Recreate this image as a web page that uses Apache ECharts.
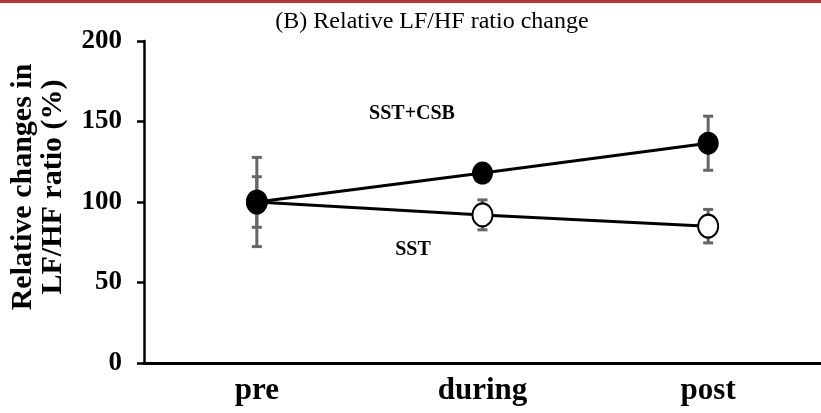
<!DOCTYPE html>
<html>
<head>
<meta charset="utf-8">
<script src="https://cdn.jsdelivr.net/npm/echarts@6/dist/echarts.min.js"></script>
<style>html,body{margin:0;padding:0;background:#fff}#c{width:821px;height:413px}</style>
</head>
<body>
<div id="c"></div>
<script>
const categories = ['pre', 'during', 'post'];
const yTicks = [0, 50, 100, 150, 200];
const sstCsbMean = [100, 118, 136.5];
const sstCsbErr = [27.7, 5, 16.8];
const sstMean = [100, 92, 85];
const sstErr = [15.7, 9.3, 10.4];

const FONT = '"Liberation Serif", "DejaVu Serif", serif';

function errData(mean, err) {
  return mean.map((m, i) => [i, m - err[i], m + err[i]]);
}

function errRender(params, api) {
  const x = api.value(0);
  const lo = api.coord([x, api.value(1)]);
  const hi = api.coord([x, api.value(2)]);
  const cap = 5;
  const style = { stroke: '#666', lineWidth: 3 };
  return {
    type: 'group',
    children: [
      { type: 'line', shape: { x1: lo[0], y1: lo[1], x2: hi[0], y2: hi[1] }, style },
      { type: 'line', shape: { x1: lo[0] - cap, y1: lo[1], x2: lo[0] + cap, y2: lo[1] }, style },
      { type: 'line', shape: { x1: hi[0] - cap, y1: hi[1], x2: hi[0] + cap, y2: hi[1] }, style }
    ]
  };
}

const chart = echarts.init(document.getElementById('c'));
chart.setOption({
  animation: false,
  backgroundColor: '#fff',
  title: {
    text: '(B) Relative LF/HF ratio change',
    left: 427, top: 5, textAlign: 'center',
    textStyle: { fontFamily: FONT, fontWeight: 'normal', fontSize: 24, color: '#000' }
  },
  grid: { left: 144, right: 0, top: 41, bottom: 50, containLabel: false },
  xAxis: {
    type: 'category',
    data: categories,
    boundaryGap: true,
    axisLine: { lineStyle: { color: '#000', width: 3 } },
    axisTick: { show: false },
    axisLabel: { fontFamily: FONT, fontWeight: 'bold', fontSize: 31, color: '#000', margin: 12 }
  },
  yAxis: {
    type: 'value',
    min: yTicks[0], max: yTicks[yTicks.length - 1], interval: 50,
    splitLine: { show: false },
    axisLine: { show: true, lineStyle: { color: '#000', width: 2.5 } },
    axisTick: { show: true, inside: false, length: 7, lineStyle: { color: '#000', width: 2.5 } },
    axisLabel: { fontFamily: FONT, fontWeight: 'bold', fontSize: 27, color: '#000', margin: 22 }
  },
  graphic: [
    { type: 'rect', left: 0, top: 0, shape: { width: 821, height: 3 }, style: { fill: '#a83a3a' } },
    {
      type: 'text', x: 38, y: 187, rotation: Math.PI / 2,
      style: {
        text: 'Relative changes in\nLF/HF ratio (%)',
        font: 'bold 30px ' + FONT, fill: '#000',
        align: 'center', verticalAlign: 'middle', lineHeight: 30
      }
    },
    { type: 'text', x: 412, y: 114, style: { text: 'SST+CSB', font: 'bold 20px ' + FONT, fill: '#000', align: 'center', verticalAlign: 'middle' } },
    { type: 'text', x: 413, y: 250, style: { text: 'SST', font: 'bold 20px ' + FONT, fill: '#000', align: 'center', verticalAlign: 'middle' } }
  ],
  series: [
    { type: 'custom', name: 'errA', renderItem: errRender, data: errData(sstCsbMean, sstCsbErr), z: 1, encode: { x: 0, y: [1, 2] } },
    { type: 'custom', name: 'errB', renderItem: errRender, data: errData(sstMean, sstErr), z: 1, encode: { x: 0, y: [1, 2] } },
    {
      type: 'line', name: 'SST', data: sstMean, z: 3,
      symbol: 'circle', symbolSize: [20, 23],
      lineStyle: { color: '#000', width: 3 },
      itemStyle: { color: '#fff', borderColor: '#000', borderWidth: 2 }
    },
    {
      type: 'line', name: 'SST+CSB', data: sstCsbMean, z: 4,
      symbol: 'circle', symbolSize: [21, 23],
      lineStyle: { color: '#000', width: 3 },
      itemStyle: { color: '#000', borderColor: '#000', borderWidth: 0 }
    }
  ]
});
</script>
</body>
</html>
